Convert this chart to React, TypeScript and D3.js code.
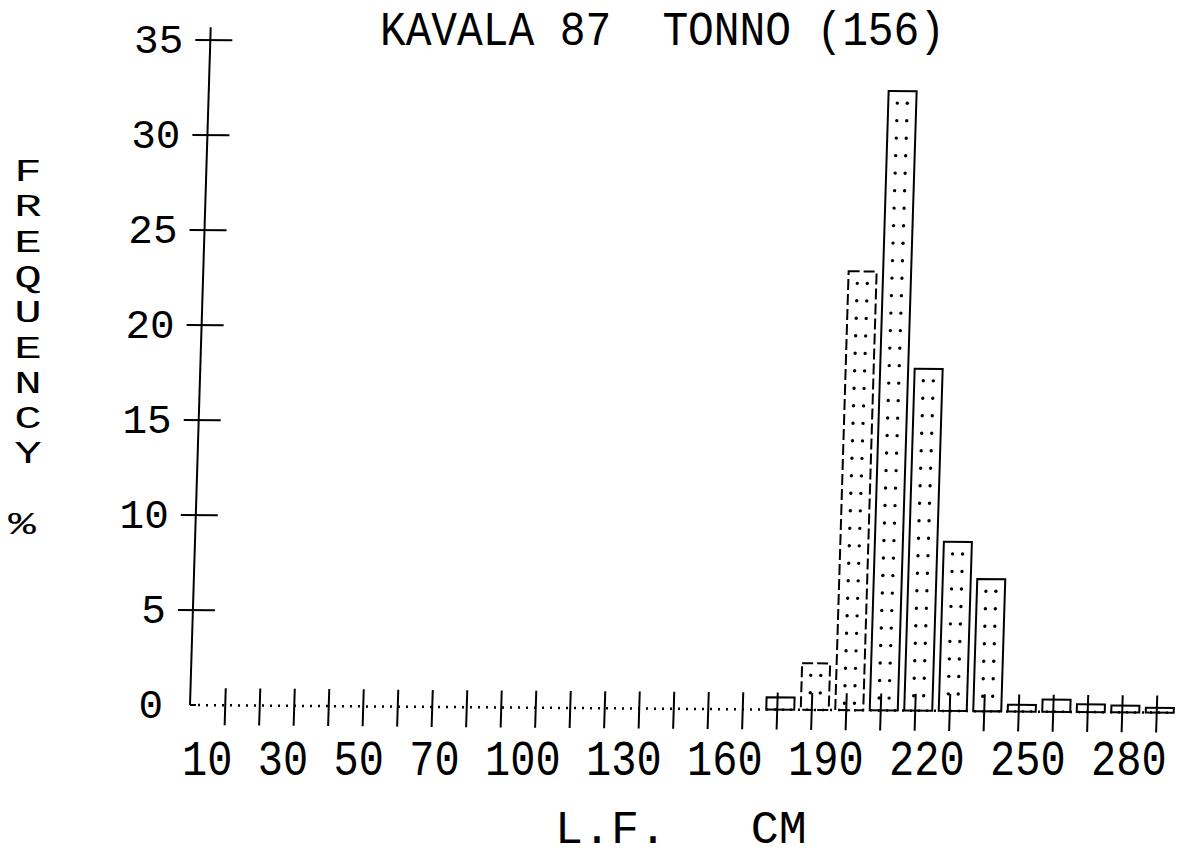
import React from 'react';
import * as d3 from 'd3';

// length classes (cm) and frequency (%)
const bins = [10, 20, 30, 40, 50, 60, 70, 80, 90, 100, 110, 120, 130, 140, 150, 160, 170, 180, 190, 200, 210, 220, 230, 240, 250, 260, 270, 280];
const freq = [0, 0, 0, 0, 0, 0, 0, 0, 0, 0, 0, 0, 0, 0, 0, 0, 0.64, 2.45, 23.1, 32.6, 18.0, 8.9, 6.95, 0.35, 0.64, 0.4, 0.35, 0.25];
const yTicks = [0, 5, 10, 15, 20, 25, 30, 35];
const xTickLabels = ['10', '30', '50', '70', '100', '130', '160', '190', '220', '250', '280'];
const title = 'KAVALA 87  TONNO (156)';
const yTitle = ['F', 'R', 'E', 'Q', 'U', 'E', 'N', 'C', 'Y', '', '%'];
const xTitle = 'L.F.   CM';

const W = 1181;
const H = 856;
const x0 = 190;
const y0 = 705;
const rot = 0.45;   // plotter paper was a bit crooked
const skew = 1.3;
const tilt = Math.tan((rot * Math.PI) / 180) + Math.tan((skew * Math.PI) / 180);
const font = "'Liberation Mono', 'DejaVu Sans Mono', monospace";
const dashedBins = [180, 190];

const App = () => {
  const yScale = d3.scaleLinear().domain([0, 35]).range([y0, 40]);
  const xScale = d3.scaleBand<number>().domain(bins).range([208, 208 + bins.length * 34.5]).padding(0);
  const cx = (b: number) => (xScale(b) as number) + xScale.bandwidth() / 2;
  const bw = 28;

  const bars = bins.map((b, i) => ({ b, v: freq[i] })).filter(d => d.v > 0);

  // x label positions follow the plotter's running text
  let pos = 0;
  const xLabs = xTickLabels.map(t => {
    const p = pos;
    pos += t.length + 1;
    return { t, p };
  });
  const pitch = 25.25;

  return (
    <svg width={W} height={H} style={{ position: 'absolute', left: 0, top: 0, background: 'white' }}>
      <g transform={`rotate(${rot} ${x0} ${y0}) translate(0 ${y0}) skewX(${-skew}) translate(0 ${-y0})`}
        stroke="black" fill="none">
        {/* y axis */}
        <line x1={x0} x2={x0} y1={y0} y2={yScale(35) - 13} strokeWidth={2} />
        {yTicks.filter(v => v > 0).map(v => (
          <line key={v} x1={x0 - 15} x2={x0 + 22} y1={yScale(v)} y2={yScale(v)} strokeWidth={2} />
        ))}
        {/* dotted baseline */}
        <line x1={x0} x2={x0 + 6} y1={y0} y2={y0} strokeWidth={2} />
        <line x1={x0 + 8} x2={1172} y1={y0} y2={y0} strokeWidth={2.5} strokeDasharray="2 6" />
        {bins.map(b => (
          <line key={b} x1={cx(b)} x2={cx(b)} y1={y0 - 17} y2={y0 + 20} strokeWidth={2} />
        ))}
        {/* bars */}
        {bars.map(d => {
          const top = yScale(d.v);
          const rows = d3.range(top + 12, y0 - 4, 17.5);
          const dashed = dashedBins.includes(d.b);
          return (
            <g key={d.b}>
              <rect x={cx(d.b) - bw / 2 + 3} y={top} width={bw} height={y0 - top}
                strokeWidth={2} strokeDasharray={dashed ? '11 4' : undefined} />
              {rows.map((ry, j) => (
                <g key={j} stroke="none" fill="black">
                  <circle cx={cx(d.b) - 2} cy={ry} r={1.7} />
                  <circle cx={cx(d.b) + 8} cy={ry} r={1.7} />
                </g>
              ))}
            </g>
          );
        })}
      </g>

      {/* y tick labels */}
      {yTicks.map(v => (
        <text key={v} x={x0 + (y0 - yScale(v)) * tilt - 27} y={yScale(v) + 13}
          textAnchor="end" fontFamily={font} fontSize={41} fill="black">{v}</text>
      ))}

      {/* x tick labels */}
      {xLabs.map(l => (
        <text key={l.t} transform={`translate(${182 + l.p * pitch},775) scale(1,1.18)`}
          fontFamily={font} fontSize={42} fill="black">{l.t}</text>
      ))}

      {/* title */}
      <text transform="translate(380,45) scale(1,1.12)" fontFamily={font} fontSize={43}
        textLength={565} lengthAdjust="spacing" fill="black" style={{ whiteSpace: 'pre' }}>{title}</text>

      {/* axis titles */}
      <text transform="translate(555,843) scale(1.06,1.05)" fontFamily={font} fontSize={44} fill="black"
        style={{ whiteSpace: 'pre' }}>{xTitle}</text>
      {yTitle.map((c, i) => c && (
        <text key={i} transform={`translate(${c === '%' ? 22 : 28},${181 + i * 35.3}) scale(1.7,1.15)`}
          textAnchor="middle" fontFamily={font} fontSize={27} fill="black">{c}</text>
      ))}
    </svg>
  );
};

export default App;
